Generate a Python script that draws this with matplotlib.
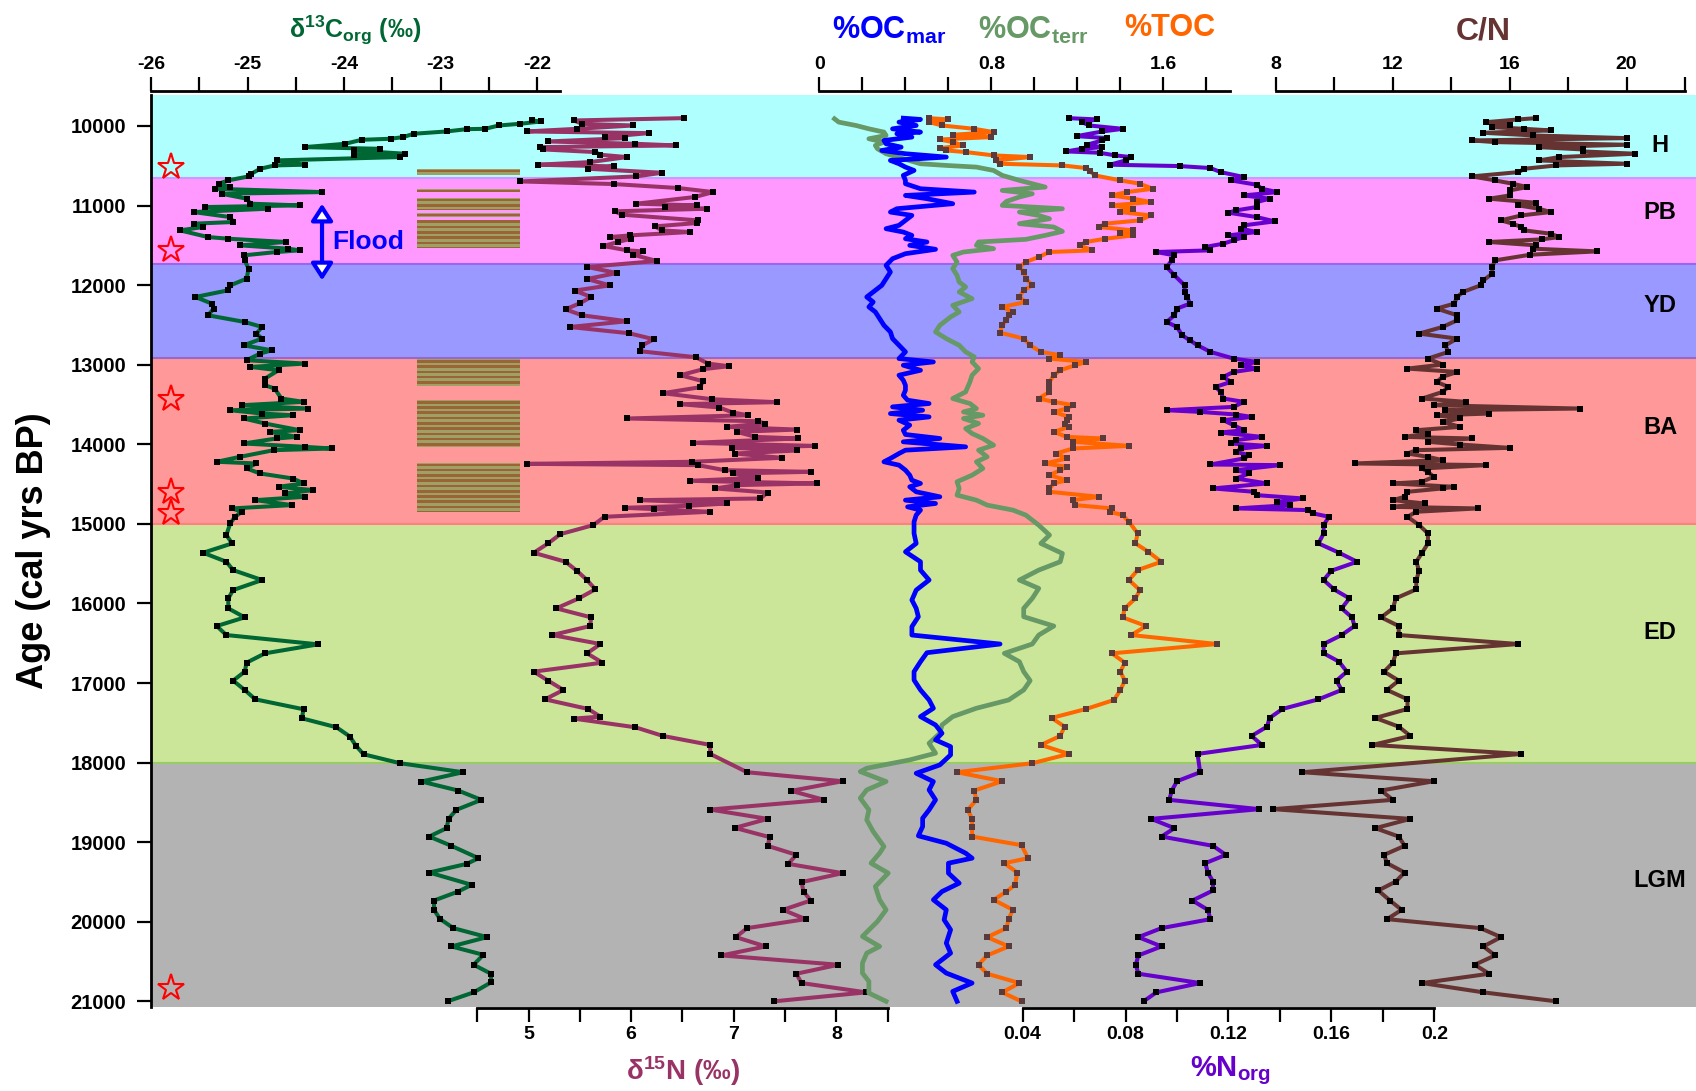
import numpy as np
import matplotlib
matplotlib.use('Agg')
import matplotlib.pyplot as plt

plt.rcParams['font.family'] = ['Liberation Sans', 'DejaVu Sans']
plt.rcParams['font.weight'] = 'bold'
plt.rcParams['mathtext.fontset'] = 'custom'
plt.rcParams['mathtext.rm'] = 'Liberation Sans'
plt.rcParams['mathtext.bf'] = 'Liberation Sans:bold'
plt.rcParams['mathtext.it'] = 'Liberation Sans:italic'

# ---- data (age in cal yrs BP) ----
d13c_age = [9931, 9943, 9973, 9994, 10036, 10040, 10069, 10098, 10140, 10161,
            10174, 10224, 10266, 10287, 10308, 10349, 10370, 10391, 10433, 10487,
            10496, 10538, 10600, 10634, 10684, 10726, 10768, 10789, 10831, 10852,
            10914, 10977, 10998, 11019, 11040, 11082, 11145, 11207, 11228, 11270,
            11312, 11396, 11417, 11458, 11500, 11542, 11563, 11584, 11626, 11689,
            11793, 11919, 12003, 12065, 12149, 12233, 12295, 12379, 12463, 12526,
            12609, 12672, 12756, 12819, 12860, 12944, 12986, 13028, 13070, 13174,
            13258, 13300, 13425, 13467, 13509, 13551, 13572, 13614, 13635, 13676,
            13739, 13823, 13844, 13907, 13927, 13990, 14032, 14053, 14074, 14158,
            14220, 14241, 14304, 14367, 14430, 14492, 14534, 14576, 14618, 14660,
            14702, 14764, 14806, 14848, 14911, 14995, 15141, 15246, 15363, 15476,
            15581, 15706, 15832, 15936, 16062, 16175, 16284, 16397, 16514, 16627,
            16744, 16857, 16970, 17087, 17205, 17330, 17443, 17556, 17673, 17786,
            17895, 18008, 18121, 18238, 18351, 18468, 18594, 18707, 18824, 18929,
            19046, 19201, 19272, 19381, 19536, 19620, 19733, 19850, 19962, 20080,
            20193, 20310, 20415, 20540, 20653, 20762, 20887, 21000]
d13c = [-22.06, -21.96, -22.18, -22.40, -22.54, -22.73, -22.94, -23.28, -23.39, -23.52,
        -23.82, -23.99, -24.41, -23.63, -23.90, -23.37, -23.90, -23.42, -24.70, -24.41,
        -24.72, -24.87, -24.96, -24.99, -25.20, -25.30, -25.18, -25.34, -24.23, -25.27,
        -25.01, -24.97, -24.46, -25.44, -24.79, -25.56, -25.18, -25.15, -25.56, -25.46,
        -25.70, -25.41, -25.20, -24.60, -25.08, -24.58, -24.46, -24.70, -25.04, -25.03,
        -24.99, -25.01, -25.18, -25.20, -25.54, -25.37, -25.35, -25.41, -25.03, -24.85,
        -24.91, -24.85, -25.04, -24.75, -24.87, -25.01, -24.41, -24.97, -24.68, -24.82,
        -24.82, -24.72, -24.65, -24.42, -25.06, -24.37, -25.18, -24.85, -24.53, -25.04,
        -24.82, -24.46, -24.77, -24.49, -24.70, -25.04, -24.41, -24.13, -24.73, -25.08,
        -25.32, -24.91, -25.01, -24.87, -24.53, -24.42, -24.68, -24.32, -24.61, -24.41,
        -24.92, -24.54, -25.16, -25.06, -25.13, -25.18, -25.22, -25.16, -25.46, -25.22,
        -25.15, -24.85, -25.15, -25.20, -25.20, -25.03, -25.32, -25.22, -24.27, -24.82,
        -25.01, -25.03, -25.15, -25.03, -24.92, -24.42, -24.44, -24.08, -23.94, -23.88,
        -23.80, -23.42, -22.77, -23.20, -22.82, -22.58, -22.84, -22.92, -22.94, -23.12,
        -22.89, -22.61, -22.73, -23.12, -22.68, -22.82, -23.07, -23.07, -23.01, -22.87,
        -22.52, -22.89, -22.56, -22.66, -22.48, -22.48, -22.66, -22.93]

d15n_age = [9902, 9931, 9973, 9994, 10036, 10069, 10090, 10140, 10153, 10195,
            10224, 10245, 10266, 10295, 10328, 10362, 10391, 10454, 10487, 10508,
            10538, 10588, 10634, 10697, 10730, 10780, 10831, 10893, 10977, 10998,
            11019, 11040, 11073, 11115, 11186, 11220, 11262, 11312, 11333, 11375,
            11396, 11417, 11458, 11509, 11563, 11576, 11618, 11697, 11772, 11848,
            11923, 12003, 12069, 12149, 12228, 12304, 12379, 12454, 12526, 12605,
            12680, 12756, 12831, 12906, 12986, 13019, 13057, 13132, 13208, 13283,
            13358, 13434, 13471, 13496, 13538, 13601, 13635, 13676, 13710, 13739,
            13781, 13815, 13844, 13907, 13927, 13982, 14020, 14045, 14078, 14116,
            14170, 14220, 14246, 14262, 14325, 14346, 14367, 14421, 14459, 14492,
            14513, 14555, 14606, 14681, 14702, 14744, 14773, 14798, 14815, 14848,
            14911, 15016, 15129, 15246, 15363, 15476, 15589, 15706, 15823, 15936,
            16062, 16175, 16284, 16397, 16510, 16627, 16744, 16857, 16970, 17087,
            17205, 17326, 17422, 17447, 17556, 17665, 17778, 17891, 18121, 18234,
            18355, 18468, 18590, 18707, 18820, 18937, 19046, 19159, 19272, 19389,
            19502, 19620, 19733, 19850, 19967, 20080, 20193, 20310, 20423, 20540,
            20653, 20770, 20887, 21000]
d15n = [6.51, 5.44, 5.52, 6.02, 5.47, 4.98, 6.17, 5.74, 5.94, 5.19,
        6.04, 6.44, 5.11, 5.14, 5.65, 5.70, 5.96, 5.60, 5.09, 5.83,
        5.58, 6.30, 6.05, 4.92, 5.83, 6.46, 6.80, 6.62, 6.05, 6.64,
        6.33, 6.74, 5.84, 5.91, 6.65, 6.64, 6.23, 6.30, 6.57, 5.99,
        5.79, 6.00, 5.87, 5.73, 5.96, 6.12, 6.02, 6.25, 5.57, 5.86,
        5.57, 5.79, 5.45, 5.61, 5.50, 5.36, 5.52, 5.96, 5.40, 5.98,
        6.22, 6.11, 6.09, 6.63, 6.75, 6.95, 6.70, 6.48, 6.70, 6.67,
        6.31, 6.79, 7.42, 6.48, 6.86, 6.99, 7.14, 5.96, 7.24, 7.30,
        6.93, 7.62, 7.03, 7.21, 7.63, 6.60, 7.79, 6.98, 7.62, 7.01,
        7.47, 6.59, 4.98, 6.65, 6.91, 7.75, 6.99, 7.24, 6.57, 7.81,
        7.03, 6.82, 7.33, 7.26, 6.09, 6.93, 6.56, 5.94, 6.22, 6.77,
        5.74, 5.63, 5.31, 5.19, 5.05, 5.36, 5.47, 5.57, 5.65, 5.49,
        5.27, 5.61, 5.60, 5.23, 5.70, 5.57, 5.72, 5.05, 5.19, 5.34,
        5.16, 5.58, 5.70, 5.44, 6.04, 6.31, 6.77, 6.77, 7.13, 8.06,
        7.56, 7.88, 6.77, 7.33, 7.01, 7.35, 7.33, 7.61, 7.53, 8.06,
        7.66, 7.68, 7.75, 7.48, 7.70, 7.13, 7.02, 7.31, 6.88, 8.02,
        7.61, 7.66, 8.29, 7.39]

ocmar_age = [9902, 9918, 9952, 9994, 10036, 10077, 10098, 10140, 10182, 10224,
             10266, 10308, 10349, 10391, 10433, 10475, 10517, 10559, 10621, 10684,
             10726, 10789, 10831, 10873, 10914, 10977, 11040, 11082, 11124, 11186,
             11249, 11291, 11333, 11375, 11417, 11458, 11500, 11550, 11605, 11668,
             11751, 11835, 11919, 12003, 12086, 12149, 12212, 12274, 12337, 12421,
             12505, 12588, 12672, 12756, 12839, 12923, 12965, 13007, 13070, 13132,
             13195, 13258, 13321, 13384, 13446, 13488, 13530, 13572, 13614, 13656,
             13697, 13760, 13823, 13877, 13927, 13969, 14032, 14074, 14116, 14178,
             14220, 14262, 14325, 14388, 14451, 14492, 14534, 14597, 14660, 14702,
             14744, 14786, 14827, 14890, 14974, 15120, 15246, 15351, 15476, 15581,
             15706, 15832, 15957, 16062, 16167, 16292, 16397, 16510, 16619, 16732,
             16857, 16962, 17087, 17213, 17317, 17422, 17527, 17631, 17715, 17799,
             17903, 18029, 18134, 18238, 18343, 18468, 18594, 18699, 18803, 18920,
             19013, 19138, 19201, 19264, 19389, 19515, 19620, 19724, 19850, 19975,
             20100, 20268, 20394, 20540, 20645, 20770, 20875, 21000]
ocmar = [0.39, 0.47, 0.37, 0.45, 0.34, 0.47, 0.36, 0.43, 0.30, 0.31,
         0.38, 0.29, 0.40, 0.59, 0.33, 0.37, 0.40, 0.44, 0.39, 0.40,
         0.40, 0.47, 0.72, 0.40, 0.50, 0.62, 0.36, 0.33, 0.43, 0.40,
         0.37, 0.31, 0.39, 0.43, 0.40, 0.50, 0.42, 0.54, 0.40, 0.34,
         0.31, 0.33, 0.31, 0.29, 0.25, 0.22, 0.25, 0.23, 0.26, 0.28,
         0.30, 0.33, 0.34, 0.37, 0.40, 0.37, 0.53, 0.39, 0.47, 0.37,
         0.39, 0.40, 0.40, 0.39, 0.41, 0.51, 0.34, 0.48, 0.33, 0.51,
         0.37, 0.42, 0.39, 0.40, 0.56, 0.39, 0.68, 0.40, 0.37, 0.33,
         0.30, 0.37, 0.40, 0.42, 0.43, 0.47, 0.42, 0.45, 0.56, 0.40,
         0.54, 0.41, 0.47, 0.45, 0.44, 0.44, 0.45, 0.40, 0.47, 0.47,
         0.51, 0.45, 0.43, 0.45, 0.46, 0.43, 0.43, 0.84, 0.50, 0.47,
         0.44, 0.44, 0.47, 0.51, 0.53, 0.47, 0.54, 0.57, 0.54, 0.61,
         0.61, 0.56, 0.45, 0.53, 0.51, 0.54, 0.51, 0.48, 0.48, 0.46,
         0.59, 0.68, 0.71, 0.60, 0.60, 0.65, 0.57, 0.53, 0.59, 0.58,
         0.61, 0.59, 0.61, 0.54, 0.59, 0.71, 0.62, 0.64]

octerr_age = [9910, 9952, 9994, 10036, 10077, 10119, 10161, 10203, 10245, 10287,
              10349, 10412, 10475, 10496, 10517, 10559, 10621, 10684, 10726, 10768,
              10810, 10852, 10893, 10948, 10998, 11040, 11082, 11124, 11166, 11228,
              11270, 11325, 11375, 11425, 11458, 11500, 11542, 11584, 11626, 11710,
              11793, 11877, 11961, 12023, 12086, 12170, 12254, 12337, 12400, 12505,
              12588, 12672, 12756, 12839, 12902, 12965, 13049, 13132, 13216, 13342,
              13425, 13488, 13551, 13593, 13635, 13676, 13739, 13802, 13865, 13927,
              14011, 14074, 14158, 14220, 14304, 14388, 14471, 14555, 14639, 14702,
              14764, 14827, 14890, 15016, 15141, 15246, 15372, 15476, 15581, 15706,
              15811, 15936, 16062, 16167, 16284, 16397, 16510, 16627, 16732, 16857,
              16970, 17087, 17213, 17317, 17422, 17527, 17631, 17757, 17882, 17966,
              18071, 18113, 18175, 18238, 18343, 18447, 18594, 18720, 18866, 19054,
              19138, 19264, 19389, 19557, 19724, 19850, 19996, 20184, 20310, 20394,
              20519, 20645, 20749, 20896, 21000]
octerr = [0.07, 0.09, 0.17, 0.23, 0.30, 0.31, 0.23, 0.30, 0.26, 0.27,
          0.31, 0.39, 0.47, 0.59, 0.73, 0.81, 0.85, 0.93, 0.99, 1.05,
          0.85, 0.99, 0.93, 0.87, 0.85, 1.13, 0.93, 1.02, 1.07, 0.93,
          1.09, 1.13, 1.05, 0.96, 0.74, 0.73, 0.81, 0.67, 0.62, 0.64,
          0.62, 0.64, 0.65, 0.68, 0.65, 0.71, 0.62, 0.65, 0.61, 0.56,
          0.54, 0.59, 0.65, 0.68, 0.72, 0.71, 0.74, 0.71, 0.70, 0.68,
          0.62, 0.70, 0.73, 0.67, 0.76, 0.67, 0.74, 0.68, 0.71, 0.76,
          0.81, 0.74, 0.78, 0.73, 0.76, 0.71, 0.64, 0.65, 0.64, 0.73,
          0.78, 0.90, 0.96, 1.02, 1.07, 1.03, 1.13, 1.12, 1.02, 0.93,
          1.02, 0.99, 0.95, 0.95, 1.09, 1.02, 0.99, 0.86, 0.93, 0.95,
          0.98, 0.95, 0.88, 0.73, 0.62, 0.57, 0.56, 0.51, 0.54, 0.42,
          0.22, 0.19, 0.25, 0.31, 0.22, 0.19, 0.23, 0.22, 0.25, 0.30,
          0.28, 0.24, 0.32, 0.26, 0.28, 0.31, 0.27, 0.20, 0.28, 0.22,
          0.20, 0.20, 0.23, 0.23, 0.31]

toc_age = [9902, 9918, 9952, 9994, 10036, 10077, 10111, 10140, 10170, 10203,
           10245, 10278, 10308, 10328, 10370, 10391, 10433, 10475, 10496, 10529,
           10571, 10621, 10684, 10726, 10789, 10831, 10873, 10914, 10956, 10998,
           11040, 11082, 11124, 11186, 11228, 11270, 11312, 11341, 11375, 11417,
           11458, 11500, 11563, 11584, 11647, 11710, 11772, 11835, 11919, 12003,
           12065, 12149, 12212, 12274, 12337, 12379, 12442, 12505, 12597, 12672,
           12756, 12839, 12881, 12923, 12965, 13007, 13070, 13132, 13216, 13279,
           13342, 13425, 13467, 13509, 13551, 13593, 13656, 13697, 13739, 13781,
           13844, 13907, 13927, 13969, 14020, 14053, 14116, 14178, 14241, 14283,
           14325, 14388, 14451, 14492, 14555, 14597, 14660, 14702, 14764, 14806,
           14848, 14890, 14974, 15120, 15246, 15351, 15476, 15581, 15706, 15832,
           15936, 16062, 16175, 16284, 16397, 16510, 16627, 16744, 16857, 16970,
           17087, 17213, 17326, 17439, 17548, 17665, 17778, 17891, 18008, 18121,
           18234, 18351, 18468, 18594, 18707, 18812, 18929, 19038, 19201, 19264,
           19381, 19536, 19620, 19724, 19850, 19962, 20080, 20193, 20310, 20423,
           20540, 20653, 20770, 20887, 21000]
toc = [0.51, 0.60, 0.51, 0.57, 0.72, 0.81, 0.62, 0.80, 0.56, 0.62,
       0.67, 0.56, 0.59, 0.68, 0.81, 0.98, 0.82, 0.84, 1.13, 1.24,
       1.26, 1.28, 1.40, 1.49, 1.55, 1.43, 1.36, 1.46, 1.54, 1.36,
       1.46, 1.40, 1.54, 1.49, 1.33, 1.30, 1.46, 1.40, 1.46, 1.33,
       1.24, 1.21, 1.27, 1.07, 1.02, 0.96, 0.93, 0.95, 0.96, 0.99,
       0.95, 0.93, 0.96, 0.85, 0.90, 0.88, 0.87, 0.85, 0.84, 0.95,
       0.98, 1.03, 1.12, 1.07, 1.24, 1.19, 1.12, 1.09, 1.07, 1.07,
       1.07, 1.02, 1.09, 1.18, 1.15, 1.09, 1.16, 1.15, 1.14, 1.16,
       1.09, 1.15, 1.32, 1.18, 1.44, 1.18, 1.10, 1.15, 1.05, 1.15,
       1.12, 1.07, 1.15, 1.09, 1.07, 1.07, 1.30, 1.18, 1.19, 1.36,
       1.35, 1.41, 1.44, 1.48, 1.47, 1.53, 1.59, 1.48, 1.44, 1.49,
       1.47, 1.42, 1.41, 1.52, 1.45, 1.85, 1.36, 1.42, 1.40, 1.42,
       1.40, 1.37, 1.24, 1.08, 1.14, 1.12, 1.03, 1.16, 0.99, 0.64,
       0.85, 0.72, 0.73, 0.69, 0.71, 0.71, 0.71, 0.94, 0.97, 0.86,
       0.92, 0.91, 0.87, 0.81, 0.90, 0.88, 0.87, 0.78, 0.88, 0.78,
       0.74, 0.78, 0.93, 0.85, 0.94]

norg_age = [9902, 9918, 9952, 9994, 10036, 10069, 10128, 10153, 10182, 10236,
            10266, 10287, 10320, 10337, 10370, 10391, 10433, 10487, 10504, 10529,
            10580, 10642, 10684, 10739, 10789, 10831, 10873, 10914, 10956, 11019,
            11061, 11090, 11145, 11199, 11249, 11291, 11333, 11375, 11396, 11438,
            11479, 11521, 11563, 11584, 11626, 11689, 11772, 11877, 12003, 12086,
            12149, 12233, 12295, 12379, 12463, 12526, 12630, 12693, 12756, 12839,
            12923, 12965, 13007, 13049, 13091, 13153, 13216, 13279, 13342, 13425,
            13467, 13530, 13572, 13593, 13626, 13656, 13697, 13760, 13823, 13852,
            13907, 13948, 13990, 14020, 14053, 14095, 14137, 14178, 14254, 14262,
            14325, 14367, 14430, 14492, 14555, 14597, 14639, 14681, 14723, 14764,
            14806, 14827, 14869, 14911, 15016, 15120, 15246, 15363, 15476, 15589,
            15706, 15823, 15936, 16062, 16175, 16284, 16397, 16510, 16627, 16732,
            16857, 16970, 17087, 17205, 17326, 17439, 17548, 17665, 17778, 17891,
            18121, 18234, 18351, 18468, 18585, 18707, 18824, 18929, 19046, 19159,
            19264, 19381, 19494, 19607, 19733, 19850, 19967, 20080, 20193, 20310,
            20423, 20540, 20653, 20770, 20887, 21000]
norg = [0.058, 0.069, 0.063, 0.066, 0.079, 0.071, 0.061, 0.073, 0.071, 0.065,
        0.071, 0.063, 0.057, 0.070, 0.076, 0.082, 0.080, 0.074, 0.101, 0.113,
        0.117, 0.126, 0.121, 0.131, 0.133, 0.139, 0.126, 0.136, 0.131, 0.131,
        0.123, 0.120, 0.131, 0.138, 0.126, 0.125, 0.131, 0.120, 0.126, 0.122,
        0.118, 0.111, 0.113, 0.092, 0.099, 0.098, 0.096, 0.099, 0.103, 0.103,
        0.104, 0.105, 0.100, 0.099, 0.096, 0.100, 0.102, 0.105, 0.108, 0.113,
        0.122, 0.131, 0.125, 0.131, 0.122, 0.118, 0.121, 0.115, 0.117, 0.118,
        0.126, 0.122, 0.096, 0.109, 0.123, 0.129, 0.118, 0.122, 0.126, 0.117,
        0.133, 0.123, 0.121, 0.135, 0.125, 0.123, 0.128, 0.126, 0.113, 0.140,
        0.123, 0.128, 0.123, 0.135, 0.114, 0.130, 0.131, 0.149, 0.139, 0.144,
        0.123, 0.151, 0.153, 0.159, 0.157, 0.157, 0.155, 0.163, 0.170, 0.160,
        0.157, 0.161, 0.167, 0.164, 0.168, 0.169, 0.164, 0.157, 0.157, 0.163,
        0.166, 0.162, 0.164, 0.155, 0.141, 0.136, 0.135, 0.129, 0.133, 0.108,
        0.109, 0.100, 0.098, 0.097, 0.132, 0.090, 0.099, 0.094, 0.114, 0.119,
        0.111, 0.112, 0.114, 0.114, 0.106, 0.112, 0.113, 0.094, 0.085, 0.094,
        0.085, 0.084, 0.085, 0.109, 0.092, 0.087]

cn_age = [9902, 9918, 9952, 9985, 10015, 10036, 10056, 10086, 10119, 10153,
          10182, 10203, 10236, 10266, 10295, 10320, 10349, 10391, 10433, 10475,
          10496, 10538, 10580, 10634, 10684, 10726, 10768, 10810, 10873, 10914,
          10965, 10998, 11040, 11082, 11124, 11186, 11228, 11270, 11312, 11354,
          11396, 11425, 11458, 11500, 11542, 11576, 11618, 11689, 11772, 11856,
          11940, 12003, 12086, 12149, 12233, 12295, 12379, 12442, 12526, 12609,
          12672, 12756, 12839, 12923, 12998, 13049, 13091, 13153, 13216, 13279,
          13342, 13425, 13467, 13509, 13551, 13572, 13614, 13635, 13676, 13718,
          13781, 13823, 13865, 13907, 13927, 13969, 14003, 14045, 14074, 14116,
          14158, 14199, 14241, 14262, 14304, 14346, 14409, 14471, 14492, 14534,
          14555, 14597, 14660, 14702, 14744, 14786, 14806, 14848, 14911, 15016,
          15120, 15246, 15363, 15476, 15589, 15706, 15823, 15936, 16062, 16175,
          16284, 16397, 16510, 16627, 16744, 16857, 16970, 17087, 17205, 17326,
          17439, 17548, 17665, 17778, 17891, 18121, 18234, 18351, 18468, 18585,
          18707, 18824, 18929, 19046, 19159, 19264, 19381, 19494, 19607, 19733,
          19850, 19967, 20080, 20193, 20310, 20423, 20540, 20653, 20770, 20887,
          21000]
cn = [16.9, 16.3, 15.2, 16.0, 15.4, 16.5, 17.4, 15.1, 16.8, 20.0,
      14.7, 15.5, 20.0, 17.0, 18.5, 18.5, 20.3, 17.7, 17.0, 20.0,
      17.6, 16.5, 16.3, 14.7, 15.5, 16.1, 16.6, 16.0, 16.0, 15.3,
      16.9, 16.3, 17.0, 17.4, 16.4, 15.7, 16.1, 16.4, 16.5, 17.4,
      17.7, 17.1, 15.3, 16.9, 16.8, 19.0, 16.7, 15.5, 15.4, 15.4,
      15.1, 15.0, 14.4, 14.2, 14.1, 13.5, 14.2, 14.2, 13.7, 12.9,
      14.2, 13.8, 13.9, 13.2, 13.7, 12.5, 14.2, 13.7, 13.5, 13.9,
      13.7, 13.0, 14.5, 13.4, 18.4, 13.8, 15.3, 13.5, 14.3, 13.7,
      14.3, 12.8, 13.2, 12.4, 14.7, 13.2, 14.3, 16.0, 12.8, 12.5,
      13.2, 13.7, 10.7, 15.2, 13.0, 13.2, 13.4, 13.0, 12.0, 14.1,
      13.7, 12.5, 12.4, 12.0, 13.1, 12.0, 14.9, 12.8, 12.5, 12.9,
      13.2, 13.2, 13.0, 12.8, 12.9, 12.8, 12.8, 12.1, 12.0, 11.6,
      12.2, 12.2, 16.3, 12.1, 12.0, 11.7, 12.2, 11.8, 12.5, 12.5,
      11.4, 12.2, 12.6, 11.3, 16.4, 8.9, 13.4, 11.6, 12.0, 7.9,
      12.6, 11.4, 12.2, 12.4, 11.7, 11.8, 12.4, 12.1, 11.5, 11.9,
      12.3, 11.8, 15.0, 15.7, 15.1, 15.5, 14.8, 15.3, 13.0, 15.1,
      17.6]

zones = ['H', 'PB', 'YD', 'BA', 'ED', 'LGM']
zone_edges = [9611, 10655, 11730, 12910, 15003, 18000, 21071]
zone_label_age = [10245, 11087, 12253, 13786, 16360, 19476]
zone_colors = ['#B0FFFF', '#FF99FF', '#9999FF', '#FF9999', '#CCE699', '#B3B3B3']
zone_lines = ['#CC99FF', '#9966EE', '#9966CC', '#FF8080', '#99CC66']

star_age = [10517, 11563, 13425, 14597, 14869, 20833]
laminae = [(10540, 10615), (10797, 10831), (10906, 11061), (11094, 11145),
           (11178, 11530), (12931, 13266), (13446, 14040), (14233, 14857)]
flood_age = (10977, 11940)

W, H = 1696, 1091
fig = plt.figure(figsize=(W / 100, H / 100), dpi=100)
ax = fig.add_axes([151 / W, 1 - 1007 / H, (W - 151) / W, (1007 - 95) / H])
ax.set_facecolor('none')
ax.set_xlim(0, 1)
ax.set_ylim(21071, 9611)
ax.set_xticks([])
for s in ['top', 'right', 'bottom']:
    ax.spines[s].set_visible(False)
ax.spines['left'].set_linewidth(2)
ax.set_yticks(range(10000, 21001, 1000))
ax.tick_params(axis='y', length=10, width=1.6, labelsize=14.5, pad=8)
ax.set_ylabel('Age (cal yrs BP)', fontsize=26, fontweight='bold')
ax.yaxis.set_label_coords(-0.065, 0.5)

for i in range(len(zones)):
    ax.axhspan(zone_edges[i], zone_edges[i + 1], color=zone_colors[i], lw=0, zorder=0)
    ax.text(0.9767, zone_label_age[i], zones[i], transform=ax.get_yaxis_transform(),
            ha='center', va='center', fontsize=17, fontweight='bold')
for e, c in zip(zone_edges[1:-1], zone_lines):
    ax.axhline(e, color=c, lw=1.5, zorder=0.5)

# laminated intervals
for lo, hi in laminae:
    ax.axhspan(lo, hi, xmin=0.1722, xmax=0.2388, color='#9FA065', lw=0, zorder=1)
    for y0 in np.arange(lo + 10, hi, 66):
        ax.axhspan(y0, min(y0 + 33, hi), xmin=0.1722, xmax=0.2388,
                   color='#9A6434', lw=0, zorder=1)

ax.plot([0.0127] * len(star_age), star_age, transform=ax.get_yaxis_transform(),
        ls='none', marker='*', ms=20, mfc='none', mec='red', mew=1.5, zorder=3)

ax.annotate('', xy=(0.1107, flood_age[0]), xytext=(0.1107, flood_age[1]),
            xycoords=ax.get_yaxis_transform(),
            arrowprops=dict(arrowstyle='<|-|>,head_length=1.0,head_width=0.65',
                            fc='white', ec='blue', lw=3, shrinkA=0, shrinkB=0))
ax.text(0.1175, 11458, 'Flood', transform=ax.get_yaxis_transform(), color='blue',
        fontsize=19, fontweight='bold', ha='left', va='center')


def scale_axis(xlim, side, bounds, ticks, labels, offset):
    t = ax.twiny()
    t.set_xlim(*xlim)
    for s in t.spines.values():
        s.set_visible(False)
    sp = t.spines[side]
    sp.set_visible(True)
    sp.set_bounds(*bounds)
    sp.set_linewidth(2)
    sp.set_position(('outward', offset))
    if side == 'bottom':
        t.xaxis.tick_bottom()
    else:
        t.xaxis.tick_top()
    t.set_xticks(ticks)
    t.set_xticklabels(labels)
    t.tick_params(axis='x', direction='out', length=10, width=1.6, labelsize=14, pad=3)
    return t


a13 = scale_axis((-26, -10.006), 'top', (-26, -21.77),
                 [-26, -25.5, -25, -24.5, -24, -23.5, -23, -22.5, -22],
                 ['-26', '', '-25', '', '-24', '', '-23', '', '-22'], 3)
a15 = scale_axis((1.320, 16.378), 'bottom', (4.5, 8.5),
                 [4.5, 5, 5.5, 6, 6.5, 7, 7.5, 8, 8.5],
                 ['', '5', '', '6', '', '7', '', '8', ''], 1)
aoc = scale_axis((-3.109, 4.077), 'top', (0, 1.91),
                 [0, 0.2, 0.4, 0.6, 0.8, 1.0, 1.2, 1.4, 1.6, 1.8],
                 ['0', '', '', '', '0.8', '', '', '', '1.6', ''], 3)
an = scale_axis((-0.2987, 0.3017), 'bottom', (0.04, 0.2),
                [0.04, 0.06, 0.08, 0.10, 0.12, 0.14, 0.16, 0.18, 0.2],
                ['0.04', '', '0.08', '', '0.12', '', '0.16', '', '0.2'], 1)
acn = scale_axis((-30.53, 22.38), 'top', (8, 22),
                 [8, 10, 12, 14, 16, 18, 20, 22],
                 ['8', '', '12', '', '16', '', '20', ''], 3)

mk = dict(marker='s', ms=3.8, mew=0, mfc='black')
a13.plot(d13c, d13c_age, color='#006633', lw=2.9, **mk)
a15.plot(d15n, d15n_age, color='#993366', lw=2.9, **mk)
aoc.plot(octerr, octerr_age, color='#669966', lw=3.4)
aoc.plot(ocmar, ocmar_age, color='#0000FF', lw=3.4)
aoc.plot(toc, toc_age, color='#FF6600', lw=2.9, marker='s', ms=3.8, mew=0, mfc='#5A3A3A')
an.plot(norg, norg_age, color='#6600CC', lw=2.9, **mk)
acn.plot(cn, cn_age, color='#663333', lw=2.9, **mk)
ax.set_ylim(21071, 9611)

# axis titles
fig.text(355 / W, 1 - 30 / H, r'$\mathbf{\delta^{13}C_{org}}$ (‰)', color='#006633',
         fontsize=18, ha='center', va='center')
fig.text(889 / W, 1 - 30 / H, r'$\mathbf{\%OC_{mar}}$', color='#0000FF',
         fontsize=22, ha='center', va='center')
fig.text(1033 / W, 1 - 30 / H, r'$\mathbf{\%OC_{terr}}$', color='#669966',
         fontsize=22, ha='center', va='center')
fig.text(1170 / W, 1 - 28 / H, '%TOC', color='#FF6600', fontsize=22,
         fontweight='bold', ha='center', va='center')
fig.text(1483 / W, 1 - 32 / H, 'C/N', color='#663333', fontsize=23,
         fontweight='bold', ha='center', va='center')
fig.text(683 / W, 1 - 1071 / H, r'$\mathbf{\delta^{15}N}$ (‰)', color='#993366',
         fontsize=20, ha='center', va='center')
fig.text(1230 / W, 1 - 1071 / H, r'$\mathbf{\%N_{org}}$', color='#6600CC',
         fontsize=21, ha='center', va='center')

fig.savefig('out.png', dpi=100)
